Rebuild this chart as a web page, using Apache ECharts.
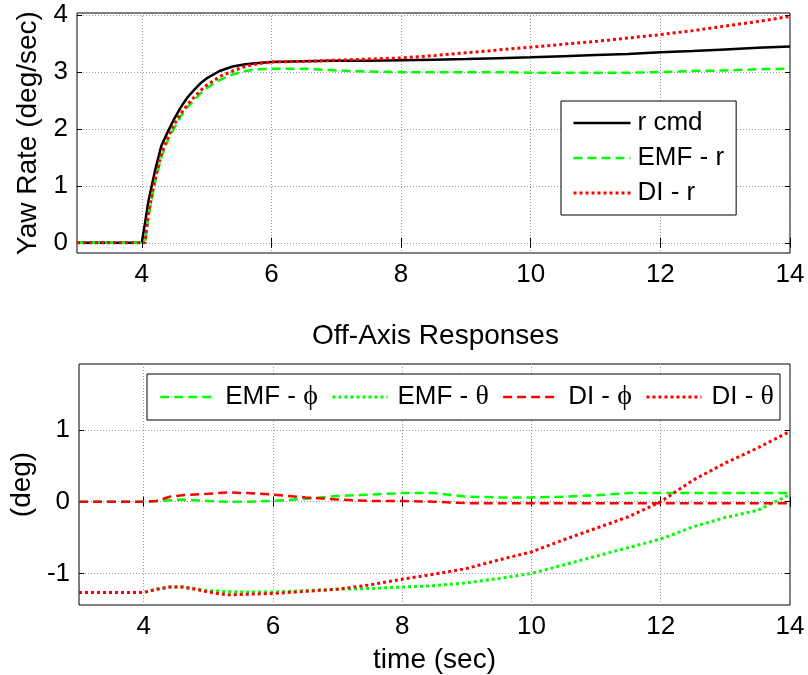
<!DOCTYPE html>
<html>
<head>
<meta charset="utf-8">
<script src="https://cdn.jsdelivr.net/npm/echarts@6/dist/echarts.min.js"></script>
<style>
html, body { margin: 0; padding: 0; background: #fff; }
#chart { width: 808px; height: 675px; }
</style>
</head>
<body>
<div id="chart"></div>
<script>
// top panel: yaw rate response
var tYaw = [3, 4, 4.05, 4.1, 4.2, 4.3, 4.4, 4.5, 4.6, 4.7, 4.8, 4.9, 5.0, 5.2, 5.4, 5.6, 5.8, 6.0,
  6.5, 7, 7.5, 8, 8.5, 9, 9.5, 10, 10.5, 11, 11.5, 12, 12.5, 13, 13.5, 14];
var rCmd = [0, 0, 0.35, 0.72, 1.25, 1.7, 1.95, 2.18, 2.38, 2.55, 2.68, 2.8, 2.89, 3.02, 3.1, 3.14, 3.16, 3.18,
  3.19, 3.2, 3.2, 3.21, 3.22, 3.23, 3.245, 3.26, 3.28, 3.3, 3.32, 3.35, 3.37, 3.4, 3.43, 3.45];
var emfR = [0, 0, 0, 0.45, 1.05, 1.5, 1.8, 2.02, 2.22, 2.38, 2.5, 2.62, 2.72, 2.86, 2.96, 3.02, 3.05, 3.06,
  3.06, 3.03, 3.01, 3.0, 3.0, 3.0, 3.0, 2.99, 2.99, 2.99, 2.99, 3.0, 3.02, 3.03, 3.05, 3.06];
var diR = [0, 0, 0, 0.5, 1.1, 1.55, 1.85, 2.08, 2.27, 2.42, 2.55, 2.67, 2.77, 2.92, 3.02, 3.1, 3.15, 3.18,
  3.19, 3.21, 3.23, 3.25, 3.29, 3.34, 3.39, 3.44, 3.49, 3.54, 3.6, 3.66, 3.73, 3.81, 3.89, 3.98];

// bottom panel: off-axis responses
var tOff = [3, 4, 4.2, 4.4, 4.6, 4.8, 5.0, 5.3, 5.6, 6.0, 6.5, 7, 7.5, 8, 8.5, 9, 9.5, 10,
  10.5, 11, 11.5, 12, 12.5, 13, 13.5, 14];
var emfPhi = [0, 0, 0.01, 0.02, 0.03, 0.02, 0.01, 0.0, 0.0, 0.01, 0.04, 0.08, 0.1, 0.12, 0.12, 0.07, 0.06, 0.06,
  0.07, 0.09, 0.12, 0.12, 0.12, 0.12, 0.12, 0.12];
var emfTheta = [-1.265, -1.265, -1.22, -1.19, -1.19, -1.21, -1.24, -1.255, -1.26, -1.26, -1.24, -1.22, -1.21, -1.19, -1.17, -1.13, -1.07, -1.0,
  -0.88, -0.76, -0.64, -0.52, -0.35, -0.22, -0.12, 0.1];
var diPhi = [0, 0, 0.01, 0.07, 0.09, 0.1, 0.11, 0.13, 0.12, 0.1, 0.06, 0.03, 0.01, 0.01, 0.0, -0.02, -0.02, -0.02,
  -0.02, -0.02, -0.02, -0.02, -0.02, -0.02, -0.02, -0.02];
var diTheta = [-1.265, -1.265, -1.22, -1.19, -1.19, -1.22, -1.26, -1.3, -1.29, -1.28, -1.25, -1.22, -1.16, -1.08, -1.01, -0.93, -0.81, -0.7,
  -0.53, -0.37, -0.21, 0.0, 0.3, 0.54, 0.75, 0.98];

var xTicks = [4, 6, 8, 10, 12, 14];
var yawTicks = [0, 1, 2, 3, 4];
var offTicks = [-1, 0, 1];

var fontFam = "'Liberation Sans', Arial, sans-serif";
var greekFam = "'Liberation Serif', 'DejaVu Serif', serif";

function pairs(t, v) {
  return t.map(function (x, i) { return [x, v[i]]; });
}

var gridLine = { show: true, lineStyle: { color: '#9a9a9a', type: [1, 2], width: 1 } };

function xAx(grid, pos, main, name) {
  return {
    type: 'value', gridIndex: grid, position: pos, min: 3, max: 14,
    axisLine: { show: false },
    axisTick: { show: true, inside: true, length: 5, lineStyle: { color: '#000' }, customValues: xTicks },
    axisLabel: { show: main, customValues: xTicks, margin: 9, color: '#000', fontSize: 26, fontFamily: fontFam },
    splitLine: main ? gridLine : { show: false },
    name: name || '', nameLocation: 'middle', nameGap: 41,
    nameTextStyle: { color: '#000', fontSize: 28, fontFamily: fontFam }
  };
}

function yAx(grid, pos, main, lo, hi, ticks, name, gap) {
  return {
    type: 'value', gridIndex: grid, position: pos, min: lo, max: hi,
    axisLine: { show: false },
    axisTick: { show: true, inside: true, length: 5, lineStyle: { color: '#000' }, customValues: ticks },
    axisLabel: { show: main, customValues: ticks, margin: 9, color: '#000', fontSize: 26, fontFamily: fontFam },
    splitLine: main ? gridLine : { show: false },
    name: name || '', nameLocation: 'middle', nameGap: gap || 30,
    nameTextStyle: { color: '#000', fontSize: 28, fontFamily: fontFam }
  };
}

function line(name, data, xi, yi, color, type, width) {
  return {
    name: name, type: 'line', xAxisIndex: xi, yAxisIndex: yi,
    data: data, symbol: 'none', animation: false,
    lineStyle: { color: color, type: type, width: width, cap: 'butt' },
    itemStyle: { color: color }
  };
}

var chart = echarts.init(document.getElementById('chart'));
chart.setOption({
  backgroundColor: '#fff',
  animation: false,
  title: {
    text: 'Off-Axis Responses', left: 312, top: 322, padding: 0,
    textStyle: { color: '#000', fontSize: 28, fontWeight: 'normal', fontFamily: fontFam }
  },
  grid: [
    { left: 77, right: 18, top: 13, height: 240, show: true, borderColor: '#000', borderWidth: 1, backgroundColor: 'transparent' },
    { left: 77, right: 18, top: 364, height: 241, show: true, borderColor: '#000', borderWidth: 1, backgroundColor: 'transparent' }
  ],
  legend: [
    {
      data: ['r cmd', 'EMF - r', 'DI - r'],
      orient: 'vertical', left: 561, top: 101,
      padding: [9, 12, 9, 11], itemGap: 9, itemWidth: 57, itemHeight: 20,
      backgroundColor: '#fff', borderColor: '#000', borderWidth: 1,
      itemStyle: { opacity: 0 },
      lineStyle: { width: 'inherit', type: 'inherit' },
      textStyle: { color: '#000', fontSize: 26, fontFamily: fontFam, padding: [0, 0, 0, 2] }
    },
    {
      data: ['EMF - ϕ', 'EMF - θ', 'DI - ϕ', 'DI - θ'],
      orient: 'horizontal', left: 147, top: 374,
      padding: [9, 6, 9, 12], itemGap: 13, itemWidth: 55, itemHeight: 20,
      backgroundColor: '#fff', borderColor: '#000', borderWidth: 1,
      itemStyle: { opacity: 0 },
      lineStyle: { width: 'inherit', type: 'inherit' },
      formatter: function (n) { return n.replace(/([ϕθ])/, '{g|$1}'); },
      textStyle: {
        color: '#000', fontSize: 26, fontFamily: fontFam, padding: [0, 0, 0, 5],
        rich: { g: { fontFamily: greekFam, fontSize: 28, color: '#000' } }
      }
    }
  ],
  xAxis: [
    xAx(0, 'bottom', true),
    xAx(0, 'top', false),
    xAx(1, 'bottom', true, 'time (sec)'),
    xAx(1, 'top', false)
  ],
  yAxis: [
    yAx(0, 'left', true, -0.18, 4.04, yawTicks, 'Yaw Rate (deg/sec)', 22),
    yAx(0, 'right', false, -0.18, 4.04, yawTicks),
    yAx(1, 'left', true, -1.44, 1.92, offTicks, '(deg)', 38),
    yAx(1, 'right', false, -1.44, 1.92, offTicks)
  ],
  series: [
    line('r cmd', pairs(tYaw, rCmd), 0, 0, '#000000', 'solid', 2.5),
    line('EMF - r', pairs(tYaw, emfR), 0, 0, '#00ff00', [9, 5], 2.5),
    line('DI - r', pairs(tYaw, diR), 0, 0, '#ff0000', [3, 3], 3),
    line('EMF - ϕ', pairs(tOff, emfPhi), 2, 2, '#00ff00', [9, 5], 2.5),
    line('EMF - θ', pairs(tOff, emfTheta), 2, 2, '#00ff00', [3, 3], 3),
    line('DI - ϕ', pairs(tOff, diPhi), 2, 2, '#ff0000', [9, 5], 2.5),
    line('DI - θ', pairs(tOff, diTheta), 2, 2, '#ff0000', [3, 3], 3)
  ]
});
</script>
</body>
</html>
